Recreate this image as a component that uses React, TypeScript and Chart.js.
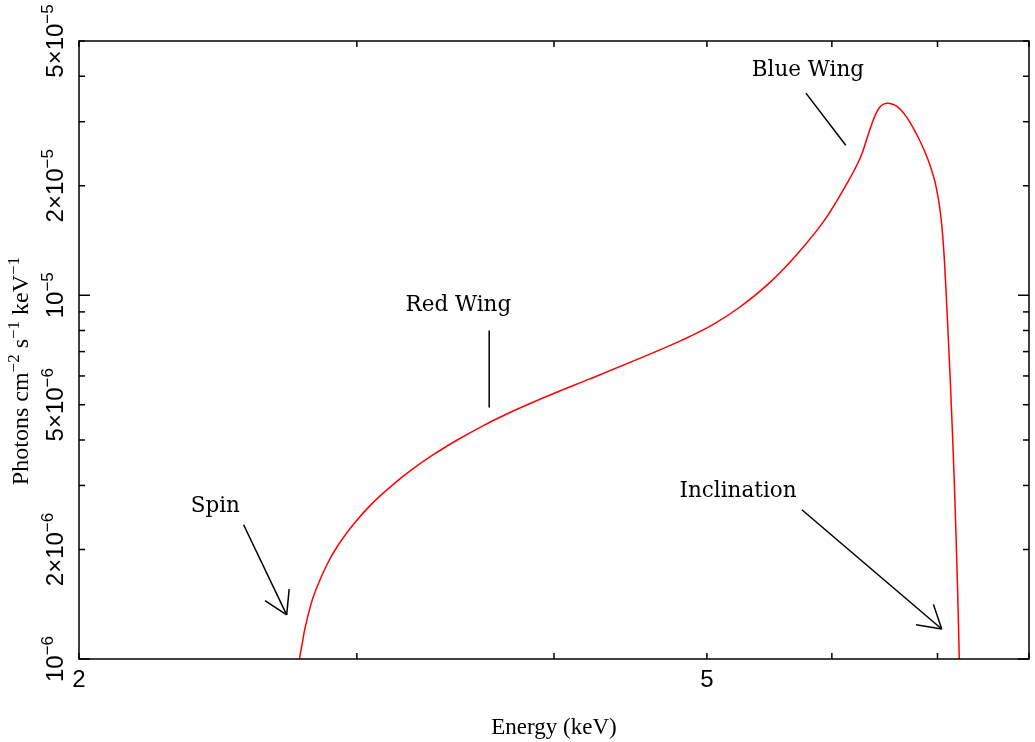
import React, { useEffect, useRef } from 'react';
import { Chart, registerables } from 'chart.js';

Chart.register(...registerables);

// ---- Data (energy in keV, flux in units of 1e-6 photons cm^-2 s^-1 keV^-1) ----
const energyKeV = [
  2.7569, 2.7597, 2.7698, 2.7799, 2.8071, 2.8330, 2.8758, 2.9168, 2.9899, 3.0636,
  3.1693, 3.2474, 3.3595, 3.4755, 3.6134, 3.7930, 4.0013, 4.2106, 4.5288, 4.8216,
  5.0370, 5.2390, 5.4971, 5.7176, 5.9470, 6.1496, 6.1946, 6.2672, 6.3130, 6.3592,
  6.3964, 6.4338, 6.4714, 6.5092, 6.5568, 6.5951, 6.6433, 6.6919, 6.7408, 6.8099,
  6.8697, 6.9098, 6.9401, 6.9705, 6.9908, 7.0112, 7.0317, 7.0522, 7.0728, 7.0934,
  7.1141, 7.1349, 7.1557, 7.1766, 7.1923, 7.2080, 7.2185, 7.2291,
];
const fluxE6 = [
  0.9627, 1.0064, 1.0998, 1.2018, 1.4244, 1.5926, 1.8391, 2.0444, 2.3639, 2.6614,
  3.0404, 3.3057, 3.6609, 4.0058, 4.3970, 4.8664, 5.3792, 5.8786, 6.6944, 7.5275,
  8.2785, 9.2381, 10.970, 13.132, 16.271, 20.703, 21.918, 24.412, 26.848, 29.527,
  31.460, 32.886, 33.518, 33.731, 33.518, 33.096, 32.165, 30.867, 29.341, 27.019,
  24.881, 23.353, 22.058, 20.703, 19.555, 18.238, 16.689, 14.701, 12.232, 9.6145,
  7.3670, 5.5737, 4.1114, 2.9195, 2.1672, 1.5685, 1.2172, 0.9209,
];

// ---- Axes ----
const xMin = 2;
const xMax = 8;
const yMin = 1e-6;
const yMax = 5e-5;
const xTickValues = [2, 3, 4, 5, 6, 7, 8];
const xTickLabelValues = [2, 5];
const xTickLabels = ['2', '5'];
const yMinorTickValues = [2e-6, 3e-6, 4e-6, 5e-6, 6e-6, 7e-6, 8e-6, 9e-6, 2e-5, 3e-5, 4e-5, 5e-5];
const yMajorTickValues = [1e-6, 1e-5];
const yTickLabelValues = [1e-6, 2e-6, 5e-6, 1e-5, 2e-5, 5e-5];
const yTickMantissa = ['', '2×', '5×', '', '2×', '5×'];
const yTickExponent = ['−6', '−6', '−6', '−5', '−5', '−5'];

const xTitle = 'Energy (keV)';
const yTitleParts = [
  { t: 'Photons cm', sup: false },
  { t: '−2', sup: true },
  { t: ' s', sup: false },
  { t: '−1', sup: true },
  { t: ' keV', sup: false },
  { t: '−1', sup: true },
];

// ---- Annotations (data coordinates) ----
const noteLabels = ['Spin', 'Red Wing', 'Blue Wing', 'Inclination'];
const noteLabelE = [2.440, 3.479, 5.794, 5.232];
const noteLabelF = [2.540e-6, 9.079e-6, 40.03e-6, 2.793e-6];
const noteFromE = [2.543, 3.639, 5.777, 5.743];
const noteFromF = [2.339e-6, 8.0e-6, 35.95e-6, 2.572e-6];
const noteToE = [2.708, 3.639, 6.123, 7.043];
const noteToF = [1.322e-6, 4.911e-6, 25.85e-6, 1.209e-6];
const noteArrow = [true, false, false, true];

const TICK_FONT = '"Liberation Sans Narrow", "Liberation Sans", Arial, sans-serif';
const TITLE_FONT = '"Liberation Serif", "Times New Roman", serif';
const NOTE_FONT = '"DejaVu Serif", serif';

type Seg = { t: string; sup: boolean };

function drawRich(
  ctx: CanvasRenderingContext2D,
  segs: Seg[],
  x: number,
  y: number,
  rotate: boolean,
  mainFont: string,
  supFont: string,
  raise: number
) {
  ctx.save();
  let total = 0;
  const widths: number[] = [];
  for (const s of segs) {
    ctx.font = s.sup ? supFont : mainFont;
    const w = ctx.measureText(s.t).width;
    widths.push(w);
    total += w;
  }
  ctx.translate(x, y);
  if (rotate) ctx.rotate(-Math.PI / 2);
  ctx.textAlign = 'left';
  ctx.textBaseline = 'alphabetic';
  ctx.fillStyle = '#000';
  let cx = -total / 2;
  segs.forEach((s, i) => {
    ctx.font = s.sup ? supFont : mainFont;
    ctx.fillText(s.t, cx, s.sup ? -raise : 0);
    cx += widths[i];
  });
  ctx.restore();
}

const overlayPlugin = {
  id: 'overlay',
  afterDraw(chart: any) {
    const { ctx, chartArea: a, scales } = chart;
    const xs = scales.x;
    const ys = scales.y;
    ctx.save();
    ctx.strokeStyle = '#000';
    ctx.lineWidth = 1.5;
    ctx.lineCap = 'butt';
    const seg = (x1: number, y1: number, x2: number, y2: number) => {
      ctx.beginPath();
      ctx.moveTo(x1, y1);
      ctx.lineTo(x2, y2);
      ctx.stroke();
    };
    // frame
    ctx.strokeRect(a.left, a.top, a.right - a.left, a.bottom - a.top);
    // x ticks (bottom and top, inward)
    for (const v of xTickValues) {
      const px = xs.getPixelForValue(v);
      seg(px, a.bottom, px, a.bottom - 6);
      seg(px, a.top, px, a.top + 6);
    }
    // y ticks (left and right, inward)
    for (const v of yMinorTickValues) {
      const py = ys.getPixelForValue(v);
      seg(a.left, py, a.left + 6, py);
      seg(a.right, py, a.right - 6, py);
    }
    for (const v of yMajorTickValues) {
      const py = ys.getPixelForValue(v);
      seg(a.left, py, a.left + 11, py);
      seg(a.right, py, a.right - 11, py);
    }
    // x tick labels
    ctx.fillStyle = '#000';
    ctx.font = '24px ' + TICK_FONT;
    ctx.textAlign = 'center';
    ctx.textBaseline = 'alphabetic';
    xTickLabelValues.forEach((v, i) => {
      ctx.fillText(xTickLabels[i], xs.getPixelForValue(v), a.bottom + 28);
    });
    // y tick labels (rotated, with superscript exponent)
    yTickLabelValues.forEach((v, i) => {
      const py = ys.getPixelForValue(v);
      drawRich(
        ctx,
        [
          { t: yTickMantissa[i] + '10', sup: false },
          { t: yTickExponent[i], sup: true },
        ],
        a.left - 16,
        py,
        true,
        '24px ' + TICK_FONT,
        '17px ' + TICK_FONT,
        10
      );
    });
    // axis titles
    ctx.font = '23px ' + TITLE_FONT;
    ctx.textAlign = 'center';
    ctx.fillText(xTitle, (a.left + a.right) / 2, a.bottom + 75);
    drawRich(ctx, yTitleParts, 28, (a.top + a.bottom) / 2 + 21, true, '24px ' + TITLE_FONT, '17px ' + TITLE_FONT, 9);

    // annotations
    ctx.font = '21.5px ' + NOTE_FONT;
    ctx.textAlign = 'center';
    ctx.textBaseline = 'alphabetic';
    noteLabels.forEach((label, i) => {
      ctx.fillText(label, xs.getPixelForValue(noteLabelE[i]), ys.getPixelForValue(noteLabelF[i]));
      const x1 = xs.getPixelForValue(noteFromE[i]);
      const y1 = ys.getPixelForValue(noteFromF[i]);
      const x2 = xs.getPixelForValue(noteToE[i]);
      const y2 = ys.getPixelForValue(noteToF[i]);
      seg(x1, y1, x2, y2);
      if (noteArrow[i]) {
        const ang = Math.atan2(y1 - y2, x1 - x2);
        const len = 26;
        const half = (31 * Math.PI) / 180;
        seg(x2, y2, x2 + len * Math.cos(ang - half), y2 + len * Math.sin(ang - half));
        seg(x2, y2, x2 + len * Math.cos(ang + half), y2 + len * Math.sin(ang + half));
      }
    });
    ctx.restore();
  },
};

export default function App() {
  const canvasRef = useRef<HTMLCanvasElement | null>(null);

  useEffect(() => {
    const canvas = canvasRef.current;
    if (!canvas) return;
    const points = energyKeV.map((e, i) => ({ x: e, y: fluxE6[i] * 1e-6 }));
    const chart = new Chart(canvas, {
      type: 'line',
      data: {
        datasets: [
          {
            label: 'Line profile',
            data: points,
            borderColor: '#ff0000',
            borderWidth: 1.5,
            pointRadius: 0,
            fill: false,
            cubicInterpolationMode: 'monotone',
          },
        ],
      },
      options: {
        responsive: false,
        maintainAspectRatio: false,
        animation: false,
        devicePixelRatio: 1,
        layout: { padding: { left: 79, right: 6, top: 41, bottom: 83 } },
        plugins: {
          legend: { display: false },
          tooltip: { enabled: false },
          title: { display: false },
        },
        scales: {
          x: {
            type: 'logarithmic',
            min: xMin,
            max: xMax,
            display: false,
          },
          y: {
            type: 'logarithmic',
            min: yMin,
            max: yMax,
            display: false,
          },
        },
      },
      plugins: [overlayPlugin],
    } as any);
    return () => chart.destroy();
  }, []);

  return (
    <div style={{ position: 'absolute', left: 0, top: 0, width: 1035, height: 742, background: '#fff' }}>
      <canvas ref={canvasRef} width={1035} height={742} style={{ display: 'block' }} />
    </div>
  );
}
